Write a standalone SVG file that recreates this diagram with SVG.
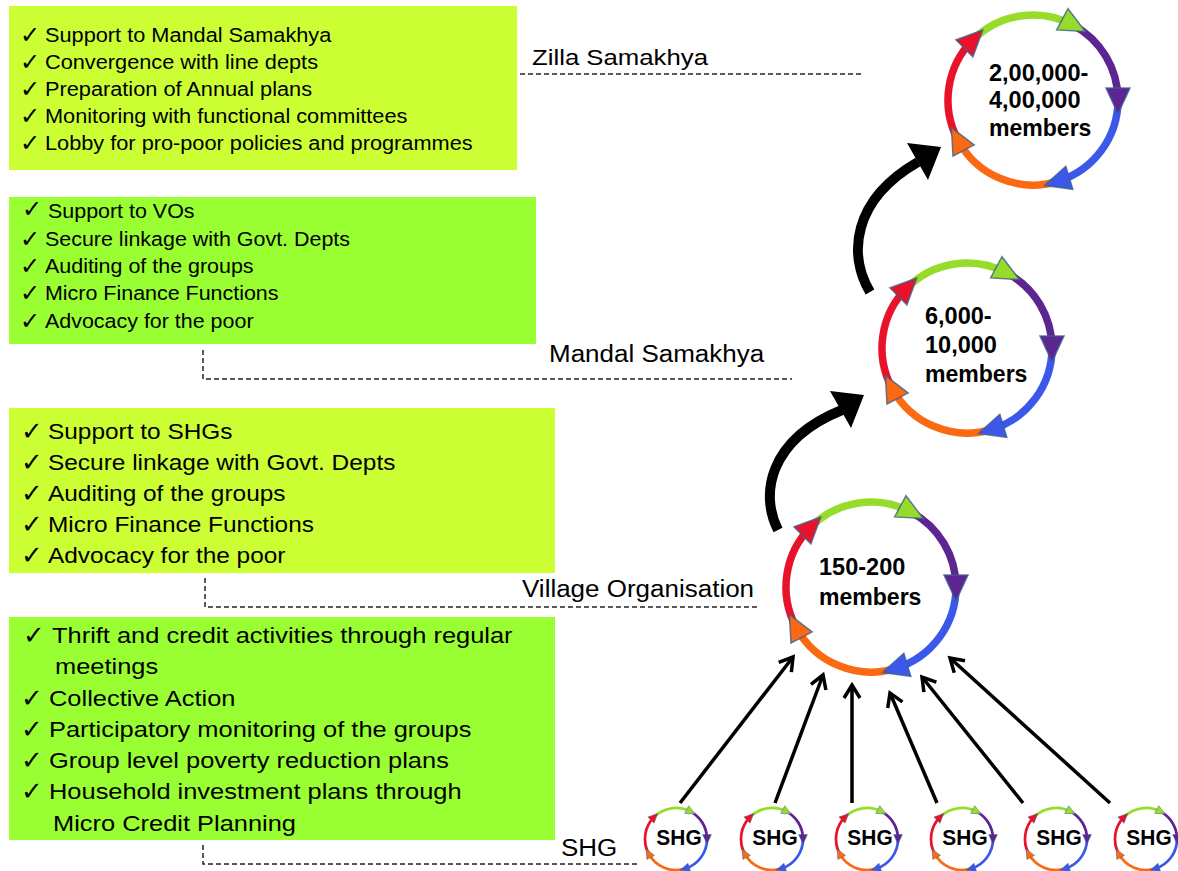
<svg xmlns="http://www.w3.org/2000/svg" xmlns:xlink="http://www.w3.org/1999/xlink" width="1178" height="871" viewBox="0 0 1178 871">
<style>
.t{font-family:"Liberation Sans",Arial,sans-serif;fill:#000}
.chk{font-family:"DejaVu Sans",sans-serif;fill:#000}
.b{font-weight:bold}
.s1{font-size:19.5px}
.s3{font-size:22px}
.s4{font-size:22.5px}
.c1{font-size:24px}
.c3{font-size:26px}
.lab{font-size:23px}
.ct{font-size:24px;font-weight:bold}
.shg{font-size:22px;font-weight:bold}
.dash{stroke:#222;stroke-width:1.5;stroke-dasharray:5 3;fill:none}
.big{stroke:#000;stroke-width:10;fill:none}
.thin{stroke:#000;stroke-width:3.5;fill:none;marker-end:url(#vhead)}
.arc{fill:none;stroke-width:7.5}
.hd{stroke:#3f5f8f;stroke-width:1.5;stroke-opacity:0.8}
</style>
<defs>
<marker id="vhead" viewBox="-16 -10 20 20" markerWidth="20" markerHeight="20" refX="0" refY="0" orient="auto" markerUnits="userSpaceOnUse">
<path d="M-13,-8 L0,0 L-13,8" stroke="#000" stroke-width="3.5" fill="none"/>
</marker>
<g id="cyc">
<path class="arc" d="M -75.05 39.91 A 85 85 0 0 1 -60.10 -60.10" stroke="#e8132b"/>
<path class="arc" d="M -60.10 -60.10 A 85 85 0 0 1 39.91 -75.05" stroke="#97dc2a"/>
<path class="arc" d="M 39.91 -75.05 A 85 85 0 0 1 85 0" stroke="#5d2592"/>
<path class="arc" d="M 85 0 A 85 85 0 0 1 24.85 81.29" stroke="#3b58ea"/>
<path class="arc" d="M 24.85 81.29 A 85 85 0 0 1 -75.05 39.91" stroke="#fb6a12"/>
<polygon class="hd" points="14,0 -12,-12 -12,12" fill="#e8132b" transform="translate(-60.10,-60.10) rotate(315)"/>
<polygon class="hd" points="14,0 -12,-12 -12,12" fill="#97dc2a" transform="translate(39.91,-75.05) rotate(28)"/>
<polygon class="hd" points="14,0 -12,-12 -12,12" fill="#5d2592" transform="translate(85,0) rotate(90)"/>
<polygon class="hd" points="14,0 -12,-12 -12,12" fill="#3b58ea" transform="translate(24.85,81.29) rotate(163)"/>
<polygon class="hd" points="14,0 -12,-12 -12,12" fill="#fb6a12" transform="translate(-75.05,39.91) rotate(242)"/>
</g>
</defs>
<rect width="1178" height="871" fill="#fff"/>

<g id="box-zilla">
<rect x="9" y="6" width="508" height="164" fill="#ccff33"/>
<text class="chk c1" x="20" y="43">✓</text>
<text class="chk c1" x="20" y="70">✓</text>
<text class="chk c1" x="20" y="97">✓</text>
<text class="chk c1" x="20" y="124">✓</text>
<text class="chk c1" x="20" y="151">✓</text>
<text class="t s1" transform="translate(45,42) scale(1.115,1)">Support to Mandal Samakhya</text>
<text class="t s1" transform="translate(45,69) scale(1.115,1)">Convergence with line depts</text>
<text class="t s1" transform="translate(45,96) scale(1.115,1)">Preparation of Annual plans</text>
<text class="t s1" transform="translate(45,123) scale(1.115,1)">Monitoring with functional committees</text>
<text class="t s1" transform="translate(45,150) scale(1.115,1)">Lobby for pro-poor policies and programmes</text>
</g>

<g id="box-mandal">
<rect x="9" y="197" width="527" height="147" fill="#99ff33"/>
<text class="chk c1" x="22" y="217">✓</text>
<text class="chk c1" x="20" y="247">✓</text>
<text class="chk c1" x="20" y="274">✓</text>
<text class="chk c1" x="20" y="301">✓</text>
<text class="chk c1" x="20" y="329">✓</text>
<text class="t s1" transform="translate(48,218) scale(1.1,1)">Support to VOs</text>
<text class="t s1" transform="translate(45,246) scale(1.1,1)">Secure linkage with Govt. Depts</text>
<text class="t s1" transform="translate(45,273) scale(1.1,1)">Auditing of the groups</text>
<text class="t s1" transform="translate(45,300) scale(1.1,1)">Micro Finance Functions</text>
<text class="t s1" transform="translate(45,328) scale(1.1,1)">Advocacy for the poor</text>
</g>

<g id="box-vo">
<rect x="9" y="408" width="546" height="165" fill="#ccff33"/>
<text class="chk c3" x="21" y="440">✓</text>
<text class="chk c3" x="21" y="471">✓</text>
<text class="chk c3" x="21" y="502">✓</text>
<text class="chk c3" x="21" y="533">✓</text>
<text class="chk c3" x="21" y="564">✓</text>
<text class="t s3" transform="translate(48,439) scale(1.11,1)">Support to SHGs</text>
<text class="t s3" transform="translate(48,470) scale(1.11,1)">Secure linkage with Govt. Depts</text>
<text class="t s3" transform="translate(48,501) scale(1.11,1)">Auditing of the groups</text>
<text class="t s3" transform="translate(48,532) scale(1.11,1)">Micro Finance Functions</text>
<text class="t s3" transform="translate(48,563) scale(1.11,1)">Advocacy for the poor</text>
</g>

<g id="box-shg">
<rect x="9" y="617" width="546" height="223" fill="#99ff33"/>
<text class="chk c3" x="23" y="644">✓</text>
<text class="chk c3" x="21" y="707">✓</text>
<text class="chk c3" x="21" y="738">✓</text>
<text class="chk c3" x="21" y="769">✓</text>
<text class="chk c3" x="21" y="800">✓</text>
<text class="t s4" transform="translate(52,643) scale(1.13,1)">Thrift and credit activities through regular</text>
<text class="t s4" transform="translate(55,674) scale(1.13,1)">meetings</text>
<text class="t s4" transform="translate(49,706) scale(1.13,1)">Collective Action</text>
<text class="t s4" transform="translate(49,737) scale(1.13,1)">Participatory monitoring of the groups</text>
<text class="t s4" transform="translate(49,768) scale(1.13,1)">Group level poverty reduction plans</text>
<text class="t s4" transform="translate(49,799) scale(1.13,1)">Household investment plans through</text>
<text class="t s4" transform="translate(53,831) scale(1.13,1)">Micro Credit Planning</text>
</g>

<g id="labels">
<text class="t lab" transform="translate(532,65) scale(1.12,1)">Zilla Samakhya</text>
<path class="dash" d="M520 74 H862"/>
<text class="t lab" transform="translate(549,362) scale(1.13,1)">Mandal Samakhya</text>
<path class="dash" d="M203 350 V379 H792"/>
<text class="t lab" transform="translate(522,597) scale(1.13,1)">Village Organisation</text>
<path class="dash" d="M205 578 V607 H760"/>
<text class="t lab" transform="translate(561,856) scale(1.13,1)">SHG</text>
<path class="dash" d="M203 845 V864 H640"/>
</g>

<g id="zilla-circle">
<use xlink:href="#cyc" href="#cyc" transform="translate(1033,100)"/>
<text class="t ct" transform="translate(989,81) scale(0.98,1)">2,00,000-</text>
<text class="t ct" transform="translate(989,108) scale(0.98,1)">4,00,000</text>
<text class="t ct" transform="translate(989,136) scale(0.96,1)">members</text>
</g>

<g id="mandal-circle">
<use xlink:href="#cyc" href="#cyc" transform="translate(967,348)"/>
<text class="t ct" transform="translate(925,324) scale(0.98,1)">6,000-</text>
<text class="t ct" transform="translate(925,353) scale(0.98,1)">10,000</text>
<text class="t ct" transform="translate(925,382) scale(0.96,1)">members</text>
</g>

<g id="vo-circle">
<use xlink:href="#cyc" href="#cyc" transform="translate(871,587)"/>
<text class="t ct" transform="translate(819,575) scale(0.98,1)">150-200</text>
<text class="t ct" transform="translate(819,605) scale(0.96,1)">members</text>
</g>

<g id="shg1"><use xlink:href="#cyc" href="#cyc" transform="translate(676,839) scale(0.365)"/><text class="t shg" text-anchor="middle" transform="translate(679,845) scale(0.95,1)">SHG</text></g>
<g id="shg2"><use xlink:href="#cyc" href="#cyc" transform="translate(772,839) scale(0.365)"/><text class="t shg" text-anchor="middle" transform="translate(775,845) scale(0.95,1)">SHG</text></g>
<g id="shg3"><use xlink:href="#cyc" href="#cyc" transform="translate(867,839) scale(0.365)"/><text class="t shg" text-anchor="middle" transform="translate(870,845) scale(0.95,1)">SHG</text></g>
<g id="shg4"><use xlink:href="#cyc" href="#cyc" transform="translate(962,839) scale(0.365)"/><text class="t shg" text-anchor="middle" transform="translate(965,845) scale(0.95,1)">SHG</text></g>
<g id="shg5"><use xlink:href="#cyc" href="#cyc" transform="translate(1056,839) scale(0.365)"/><text class="t shg" text-anchor="middle" transform="translate(1059,845) scale(0.95,1)">SHG</text></g>
<g id="shg6"><use xlink:href="#cyc" href="#cyc" transform="translate(1146,839) scale(0.365)"/><text class="t shg" text-anchor="middle" transform="translate(1149,845) scale(0.95,1)">SHG</text></g>

<g id="connectors">
<path class="big" d="M778 530 C760 495 768 440 842 410"/>
<polygon points="864,395 830,391 851,428" fill="#000"/>
<path class="big" d="M870 292 C848 255 852 200 918 162"/>
<polygon points="941,147 907,143 928,180" fill="#000"/>
<path class="thin" d="M680 803 L793 657"/>
<path class="thin" d="M775 803 L823 675"/>
<path class="thin" d="M852 803 L852 685"/>
<path class="thin" d="M937 803 L890 693"/>
<path class="thin" d="M1023 803 L922 677"/>
<path class="thin" d="M1110 803 L950 658"/>
</g>
</svg>
